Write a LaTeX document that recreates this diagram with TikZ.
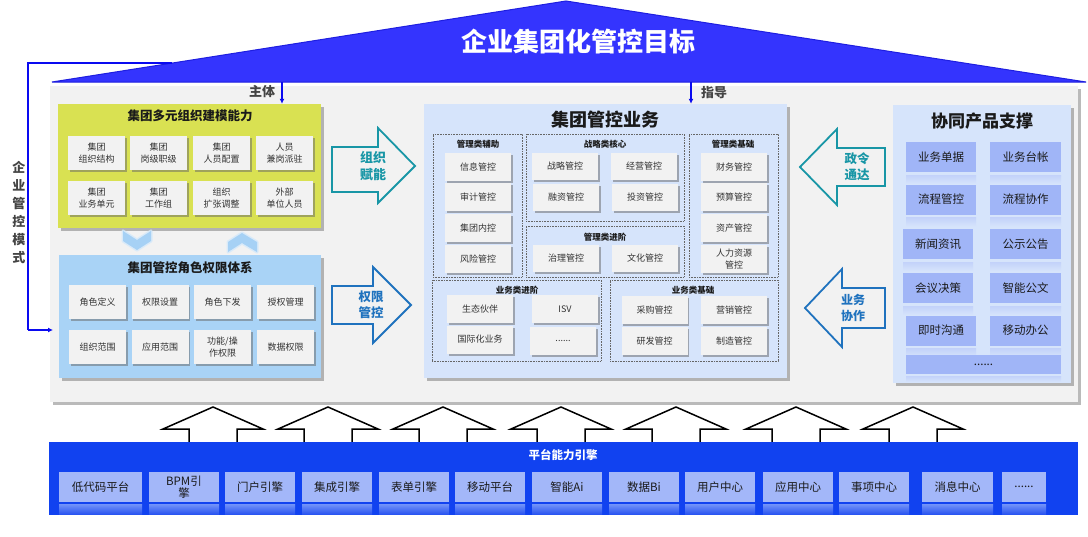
\documentclass[tikz,border=0pt]{standalone}
\usepackage{fontspec}
\setmainfont{Noto Sans CJK SC}
\usetikzlibrary{shadows,arrows.meta}
\newcommand\sixdots{......}
\definecolor{roofc}{HTML}{3434FE}
\definecolor{roofedge}{HTML}{1E1EE0}
\definecolor{lineblue}{HTML}{0A0AF0}
\definecolor{gpanel}{HTML}{F2F2F2}
\definecolor{ypanel}{HTML}{D9E152}
\definecolor{bpanel}{HTML}{A9D3F6}
\definecolor{cpanel}{HTML}{D6E4FB}
\definecolor{cellgray}{HTML}{F2F2F2}
\definecolor{rcell}{HTML}{A0B5F7}
\definecolor{rrefl}{HTML}{C3D2FA}
\definecolor{platc}{HTML}{1142F0}
\definecolor{pcell}{HTML}{A3B7F9}
\definecolor{prefltop}{HTML}{7393F8}
\definecolor{preflbot}{HTML}{2A55F1}
\definecolor{tealc}{HTML}{1896A6}
\definecolor{arrblue}{HTML}{1F72BE}
\definecolor{chev}{HTML}{A6D1F5}
\definecolor{chevglow}{HTML}{D3E9FB}
\definecolor{txtc}{HTML}{333333}
\definecolor{ttlc}{HTML}{1A1A1A}
\definecolor{lblc}{HTML}{444444}
\begin{document}
\begin{tikzpicture}[x=1pt,y=-1pt,
  panel/.style={inner sep=0pt, draw=none, drop shadow={shadow xshift=2.5pt, shadow yshift=-3pt, opacity=.45, fill=black!60}},
  cell/.style={fill=cellgray, text=txtc, align=center, inner sep=0pt, font=\fontsize{9}{11.5}\selectfont,
    drop shadow={shadow xshift=1.5pt, shadow yshift=-2pt, opacity=.5, fill=black!60}},
  ycell/.style={cell, minimum width=57pt, minimum height=34pt},
  ccell/.style={cell, minimum width=66pt, minimum height=28pt},
  subbox/.style={draw=black!60, densely dotted, line width=0.6pt, inner sep=0pt, fill=none},
  subttl/.style={font=\fontsize{8.5}{10}\selectfont\bfseries, text=ttlc},
  pttl/.style={font=\fontsize{12.5}{14}\selectfont\bfseries, text=ttlc},
  rcellst/.style={fill=rcell, text=ttlc, inner sep=0pt, font=\fontsize{11.5}{13}\selectfont, minimum height=30pt},
  pcellst/.style={fill=pcell, text=ttlc, inner sep=0pt, align=center, font=\fontsize{11.5}{12.5}\selectfont, minimum height=30pt},
  blockarrow/.style={line width=1.8pt, fill=gpanel, line join=miter},
  arrtxt/.style={font=\fontsize{13}{17}\selectfont\bfseries, align=center},
  uparrow/.style={draw=black, line width=1.5pt, fill=white, line join=miter},
  conn/.style={draw=lineblue, line width=1.6pt, -{Latex[length=5pt,width=5pt]}},
  lbl/.style={font=\fontsize{13}{15}\selectfont\bfseries, text=lblc}
]
\useasboundingbox (0,0) rectangle (1088,536);
\fill[white] (0,0) rectangle (1088,536);

% ---------- roof ----------
\draw[fill=roofc, draw=roofedge, line width=1pt, line join=miter] (52,82) -- (566,1) -- (1086,82) -- cycle;
\node[font=\fontsize{26}{29}\selectfont\bfseries, text=white] (goal) at (578,42) {企业集团化管控目标};

% ---------- grey main panel ----------
\node[panel, fill=gpanel, minimum width=1028pt, minimum height=316pt] (main) at (564,244) {};

% ---------- left loop (企业管控模式) ----------
\coordinate (loopA) at (172,63);
\coordinate (loopB) at (28,63);
\coordinate (loopC) at (28,330);
\coordinate (loopD) at (53,330);
\draw[draw=lineblue, line width=2pt] (loopA) -- (loopB) -- (loopC);
\draw[conn, line width=2pt] (loopC) -- (loopD);
\node[font=\fontsize{13}{18}\selectfont\bfseries, text=lblc, align=center] (mode) at (19,212) {企\\业\\管\\控\\模\\式};

% ---------- yellow panel ----------
\node[panel, fill=ypanel, minimum width=263pt, minimum height=124pt] (yp) at (189.5,166) {};
\node[pttl] (ypt) at (190,116) {集团多元组织建模能力};
\node[ycell] (y11) at (96.5,153) {集团\\组织结构};
\node[ycell] (y12) at (158.5,153) {集团\\岗级职级};
\node[ycell] (y13) at (221.5,153) {集团\\人员配置};
\node[ycell] (y14) at (284.5,153) {人员\\兼岗派驻};
\node[ycell] (y21) at (96.5,198) {集团\\业务单元};
\node[ycell] (y22) at (158.5,198) {集团\\工作组};
\node[ycell] (y23) at (221.5,198) {组织\\扩张调整};
\node[ycell] (y24) at (284.5,198) {外部\\单位人员};

% ---------- chevrons ----------
\draw[chevglow, line width=3pt, opacity=.8, line join=round] (123,231) -- (137,240) -- (151,231) -- (151,241) -- (137,250) -- (123,241) -- cycle;
\fill[chev] (123,231) -- (137,240) -- (151,231) -- (151,241) -- (137,250) -- (123,241) -- cycle;
\draw[chevglow, line width=3pt, opacity=.8, line join=round] (228,252) -- (242,243) -- (257,252) -- (257,242) -- (242,233) -- (228,242) -- cycle;
\fill[chev] (228,252) -- (242,243) -- (257,252) -- (257,242) -- (242,233) -- (228,242) -- cycle;

% ---------- blue role panel ----------
\node[panel, fill=bpanel, minimum width=262pt, minimum height=123pt] (bp) at (190,316.5) {};
\node[pttl] (bpt) at (190,268) {集团管控角色权限体系};
\node[ycell] (b11) at (97.5,302) {角色定义};
\node[ycell] (b12) at (160,302) {权限设置};
\node[ycell] (b13) at (222.5,302) {角色下发};
\node[ycell] (b14) at (285.5,302) {授权管理};
\node[ycell] (b21) at (97.5,347) {组织范围};
\node[ycell] (b22) at (160,347) {应用范围};
\node[ycell] (b23) at (222.5,347) {功能/操\\作权限};
\node[ycell] (b24) at (285.5,347) {数据权限};

% ---------- roof connectors ----------
\coordinate (zt) at (282,82);
\coordinate (zd) at (691,82);
\draw[conn] (zt) -- (zt |- yp.north);
\node[lbl] (ztl) at (262,92) {主体};

% ---------- centre panel ----------
\node[panel, fill=cpanel, minimum width=363pt, minimum height=274pt] (cp) at (605.5,241) {};
\draw[conn] (zd) -- (zd |- cp.north);
\node[lbl] (zdl) at (714,93) {指导};
\node[font=\fontsize{18}{20}\selectfont\bfseries, text=ttlc] (cpt) at (605,120) {集团管控业务};

% sub boxes
\node[subbox, minimum width=89pt, minimum height=143pt] (sA) at (477.5,205.5) {};
\node[subttl] (sAt) at (478,144) {管理类辅助};
\node[ccell] (a1) at (478,167) {信息管控};
\node[ccell] (a2) at (478,197) {审计管控};
\node[ccell] (a3) at (478,228) {集团内控};
\node[ccell] (a4) at (478,259) {风险管控};

\node[subbox, minimum width=158pt, minimum height=87pt] (sB) at (605,177.5) {};
\node[subttl] (sBt) at (605,144) {战略类核心};
\node[ccell, minimum height=27pt] (bb1) at (565,166.5) {战略管控};
\node[ccell, minimum height=27pt] (bb2) at (644,166.5) {经营管控};
\node[ccell, minimum height=27pt] (bb3) at (566,197.5) {融资管控};
\node[ccell, minimum height=27pt] (bb4) at (645,197.5) {投资管控};

\node[subbox, minimum width=158pt, minimum height=51pt] (sC) at (605,251.5) {};
\node[subttl] (sCt) at (605,237) {管理类进阶};
\node[ccell, minimum height=27pt] (c1) at (566,258.5) {治理管控};
\node[ccell, minimum height=27pt] (c2) at (645,258.5) {文化管控};

\node[subbox, minimum width=89pt, minimum height=143pt] (sD) at (733.5,205.5) {};
\node[subttl] (sDt) at (733,144) {管理类基础};
\node[ccell] (d1) at (734,167) {财务管控};
\node[ccell] (d2) at (734,197) {预算管控};
\node[ccell] (d3) at (734,228) {资产管控};
\node[ccell] (d4) at (734,259) {人力资源\\管控};

\node[subbox, minimum width=169pt, minimum height=81pt] (sE) at (516.5,320.5) {};
\node[ccell] (e1) at (480,309) {生态伙伴};
\node[ccell] (e2) at (565,309) {ISV};
\node[ccell] (e3) at (480,339.5) {国际化业务};
\node[ccell] (e4) at (563,341) {\sixdots};
\node[subttl] (sEt) at (517,290) {业务类进阶};

\node[subbox, minimum width=168pt, minimum height=81pt] (sF) at (694,320.5) {};
\node[ccell] (f1) at (654.5,310) {采购管控};
\node[ccell] (f2) at (734,310) {营销管控};
\node[ccell] (f3) at (654.5,341) {研发管控};
\node[ccell] (f4) at (734,341) {制造管控};
\node[subttl] (sFt) at (693,290) {业务类基础};

% ---------- left block arrows ----------
\draw[blockarrow, draw=tealc] (332,147) -- (378,147) -- (378,128) -- (415,166) -- (378,203) -- (378,192) -- (332,192) -- cycle;
\node[arrtxt, text=tealc] (zzfn) at (373,166) {组织\\赋能};
\draw[blockarrow, draw=arrblue] (332,286) -- (373,286) -- (373,267) -- (411,305) -- (373,343) -- (373,324) -- (332,324) -- cycle;
\node[arrtxt, text=arrblue, font=\fontsize{12.5}{16}\selectfont\bfseries] (qxgk) at (371,305) {权限\\管控};

% ---------- right block arrows ----------
\draw[blockarrow, draw=tealc] (885,148) -- (837,148) -- (837,129) -- (800,167) -- (837,205) -- (837,186) -- (885,186) -- cycle;
\node[arrtxt, text=tealc, font=\fontsize{12.5}{16}\selectfont\bfseries] (zltd) at (857,167) {政令\\通达};
\draw[blockarrow, draw=arrblue] (885,288) -- (842,288) -- (842,269) -- (805,308) -- (842,347) -- (842,328) -- (885,328) -- cycle;
\node[arrtxt, text=arrblue, font=\fontsize{12}{15.5}\selectfont\bfseries] (ywxz) at (853,308) {业务\\协作};

% ---------- right panel ----------
\node[panel, fill=cpanel, minimum width=178pt, minimum height=278pt] (rp) at (982,244) {};
\node[font=\fontsize{17}{19}\selectfont\bfseries, text=ttlc] (rpt) at (982,121) {协同产品支撑};
\foreach \x/\w/\y/\t [count=\i] in {941/70/157/业务单据, 1025.5/71/157/业务台帐,
   941/70/199.5/流程管控, 1025.5/71/199.5/流程协作,
   938/70/244/新闻资讯, 1025.5/71/244/公示公告,
   938/70/288/会议决策, 1025.5/71/288/智能公文,
   941/70/330.5/即时沟通, 1025.5/71/330.5/移动办公}{
  \shade[top color=rrefl, bottom color=cpanel] ({\x-\w/2},{\y+18}) rectangle ({\x+\w/2},{\y+27});
  \node[rcellst, minimum width=\w pt] (r\i) at (\x,\y) {\t};
}
\shade[top color=rrefl, bottom color=cpanel] (906,376) rectangle (1061,382);
\node[rcellst, minimum width=155pt, minimum height=19pt] (r11) at (983.5,364.5) {\sixdots};

% ---------- up arrows ----------
\foreach \c [count=\i] in {213,328,443,561,676,796,913}{
  \draw[uparrow] ({\c-24},446) -- ({\c-24},429) -- ({\c-50},429) -- (\c,407) -- ({\c+50},429) -- ({\c+24},429) -- ({\c+24},446);
  \coordinate (up\i) at (\c,407);
}

% ---------- platform ----------
\node[inner sep=0pt, fill=platc, minimum width=1029pt, minimum height=73pt] (plat) at (563.5,478.5) {};
\node[font=\fontsize{11.5}{13}\selectfont\bfseries, text=white] (platt) at (563,455) {平台能力引擎};
\foreach \a/\b/\t [count=\i] in {59/142/低代码平台, 149/219/{BPM引\\擎}, 225/295/门户引擎, 302/372/集成引擎,
   379/449/表单引擎, 455/525/移动平台, 532/602/智能Ai, 609/679/数据Bi, 685/755/用户中心,
   763/833/应用中心, 839/909/事项中心, 922/993/消息中心, 1002/1046/\sixdots}{
  \shade[top color=prefltop, bottom color=preflbot] (\a,504) rectangle (\b,514);
  \node[pcellst, minimum width={(\b-\a)*1pt}] (p\i) at ({(\a+\b)/2},487) {\t};
}
\end{tikzpicture}
\end{document}
